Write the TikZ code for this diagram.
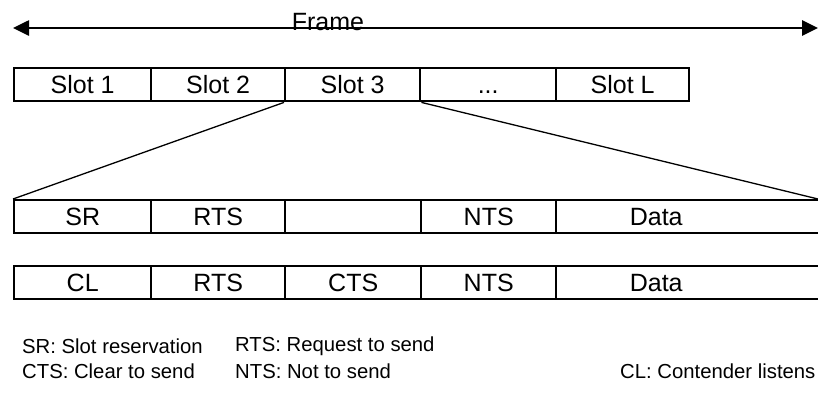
\documentclass[tikz,border=0pt]{standalone}
\usepackage{fontspec}
\setmainfont{Liberation Sans}
\usetikzlibrary{arrows.meta}
\begin{document}
\begin{tikzpicture}[x=1pt,y=-1pt,
  field/.style={draw=black,line width=2.4pt,minimum height=33pt,inner sep=0pt,
    text height=18pt,text depth=0pt,
    font=\fontsize{25}{28}\selectfont,anchor=north west},
  fan/.style={draw=black,line width=1.3pt},
  legend/.style={anchor=west,inner sep=0pt,font=\fontsize{20.3}{23}\selectfont}]
\useasboundingbox (0,0) rectangle (818,394);

% frame span
\coordinate (fl) at (13,28);
\coordinate (fr) at (818,28);
\draw[line width=2.6pt,{Triangle[length=16pt,width=15pt]}-{Triangle[length=16pt,width=15pt]}] (fl) -- (fr);
\node[anchor=base,inner sep=0pt,font=\fontsize{25}{28}\selectfont] (frame) at (328,30) {Frame};

% slots of the frame
\node[field,minimum width=137pt] (s1) at (13,67) {Slot 1};
\node[field,minimum width=134pt] (s2) at (150,67) {Slot 2};
\node[field,minimum width=135pt] (s3) at (284,67) {Slot 3};
\node[field,minimum width=136pt] (s4) at (419,67) {...};
\node[field,minimum width=133pt] (s5) at (555,67) {Slot L};

% first layout of a slot (the data field runs on past the right edge)
\node[field,minimum width=268pt] (a5) at (555,199) {\makebox[200pt]{Data}\kern68pt};
\node[field,minimum width=137pt] (a1) at (13,199) {SR};
\node[field,minimum width=134pt] (a2) at (150,199) {RTS};
\node[field,minimum width=136pt] (a3) at (284,199) {};
\node[field,minimum width=135pt] (a4) at (420,199) {NTS};

% second layout of a slot
\node[field,minimum width=268pt] (b5) at (555,265) {\makebox[200pt]{Data}\kern68pt};
\node[field,minimum width=137pt] (b1) at (13,265) {CL};
\node[field,minimum width=134pt] (b2) at (150,265) {RTS};
\node[field,minimum width=136pt] (b3) at (284,265) {CTS};
\node[field,minimum width=135pt] (b4) at (420,265) {NTS};

% expansion of slot 3
\coordinate (er) at (818,199);
\draw[fan] (s3.south west) -- (a1.north west);
\draw[fan] (s3.south east) -- (er);

% abbreviations
\node[legend] (l1) at (22,346) {SR: Slot reservation};
\node[legend] (l2) at (235,346) {RTS: Request to send};
\node[legend] (l3) at (22,371) {CTS: Clear to send};
\node[legend] (l4) at (235,371) {NTS: Not to send};
\node[legend] (l5) at (620,371) {CL: Contender listens};
\end{tikzpicture}
\end{document}
